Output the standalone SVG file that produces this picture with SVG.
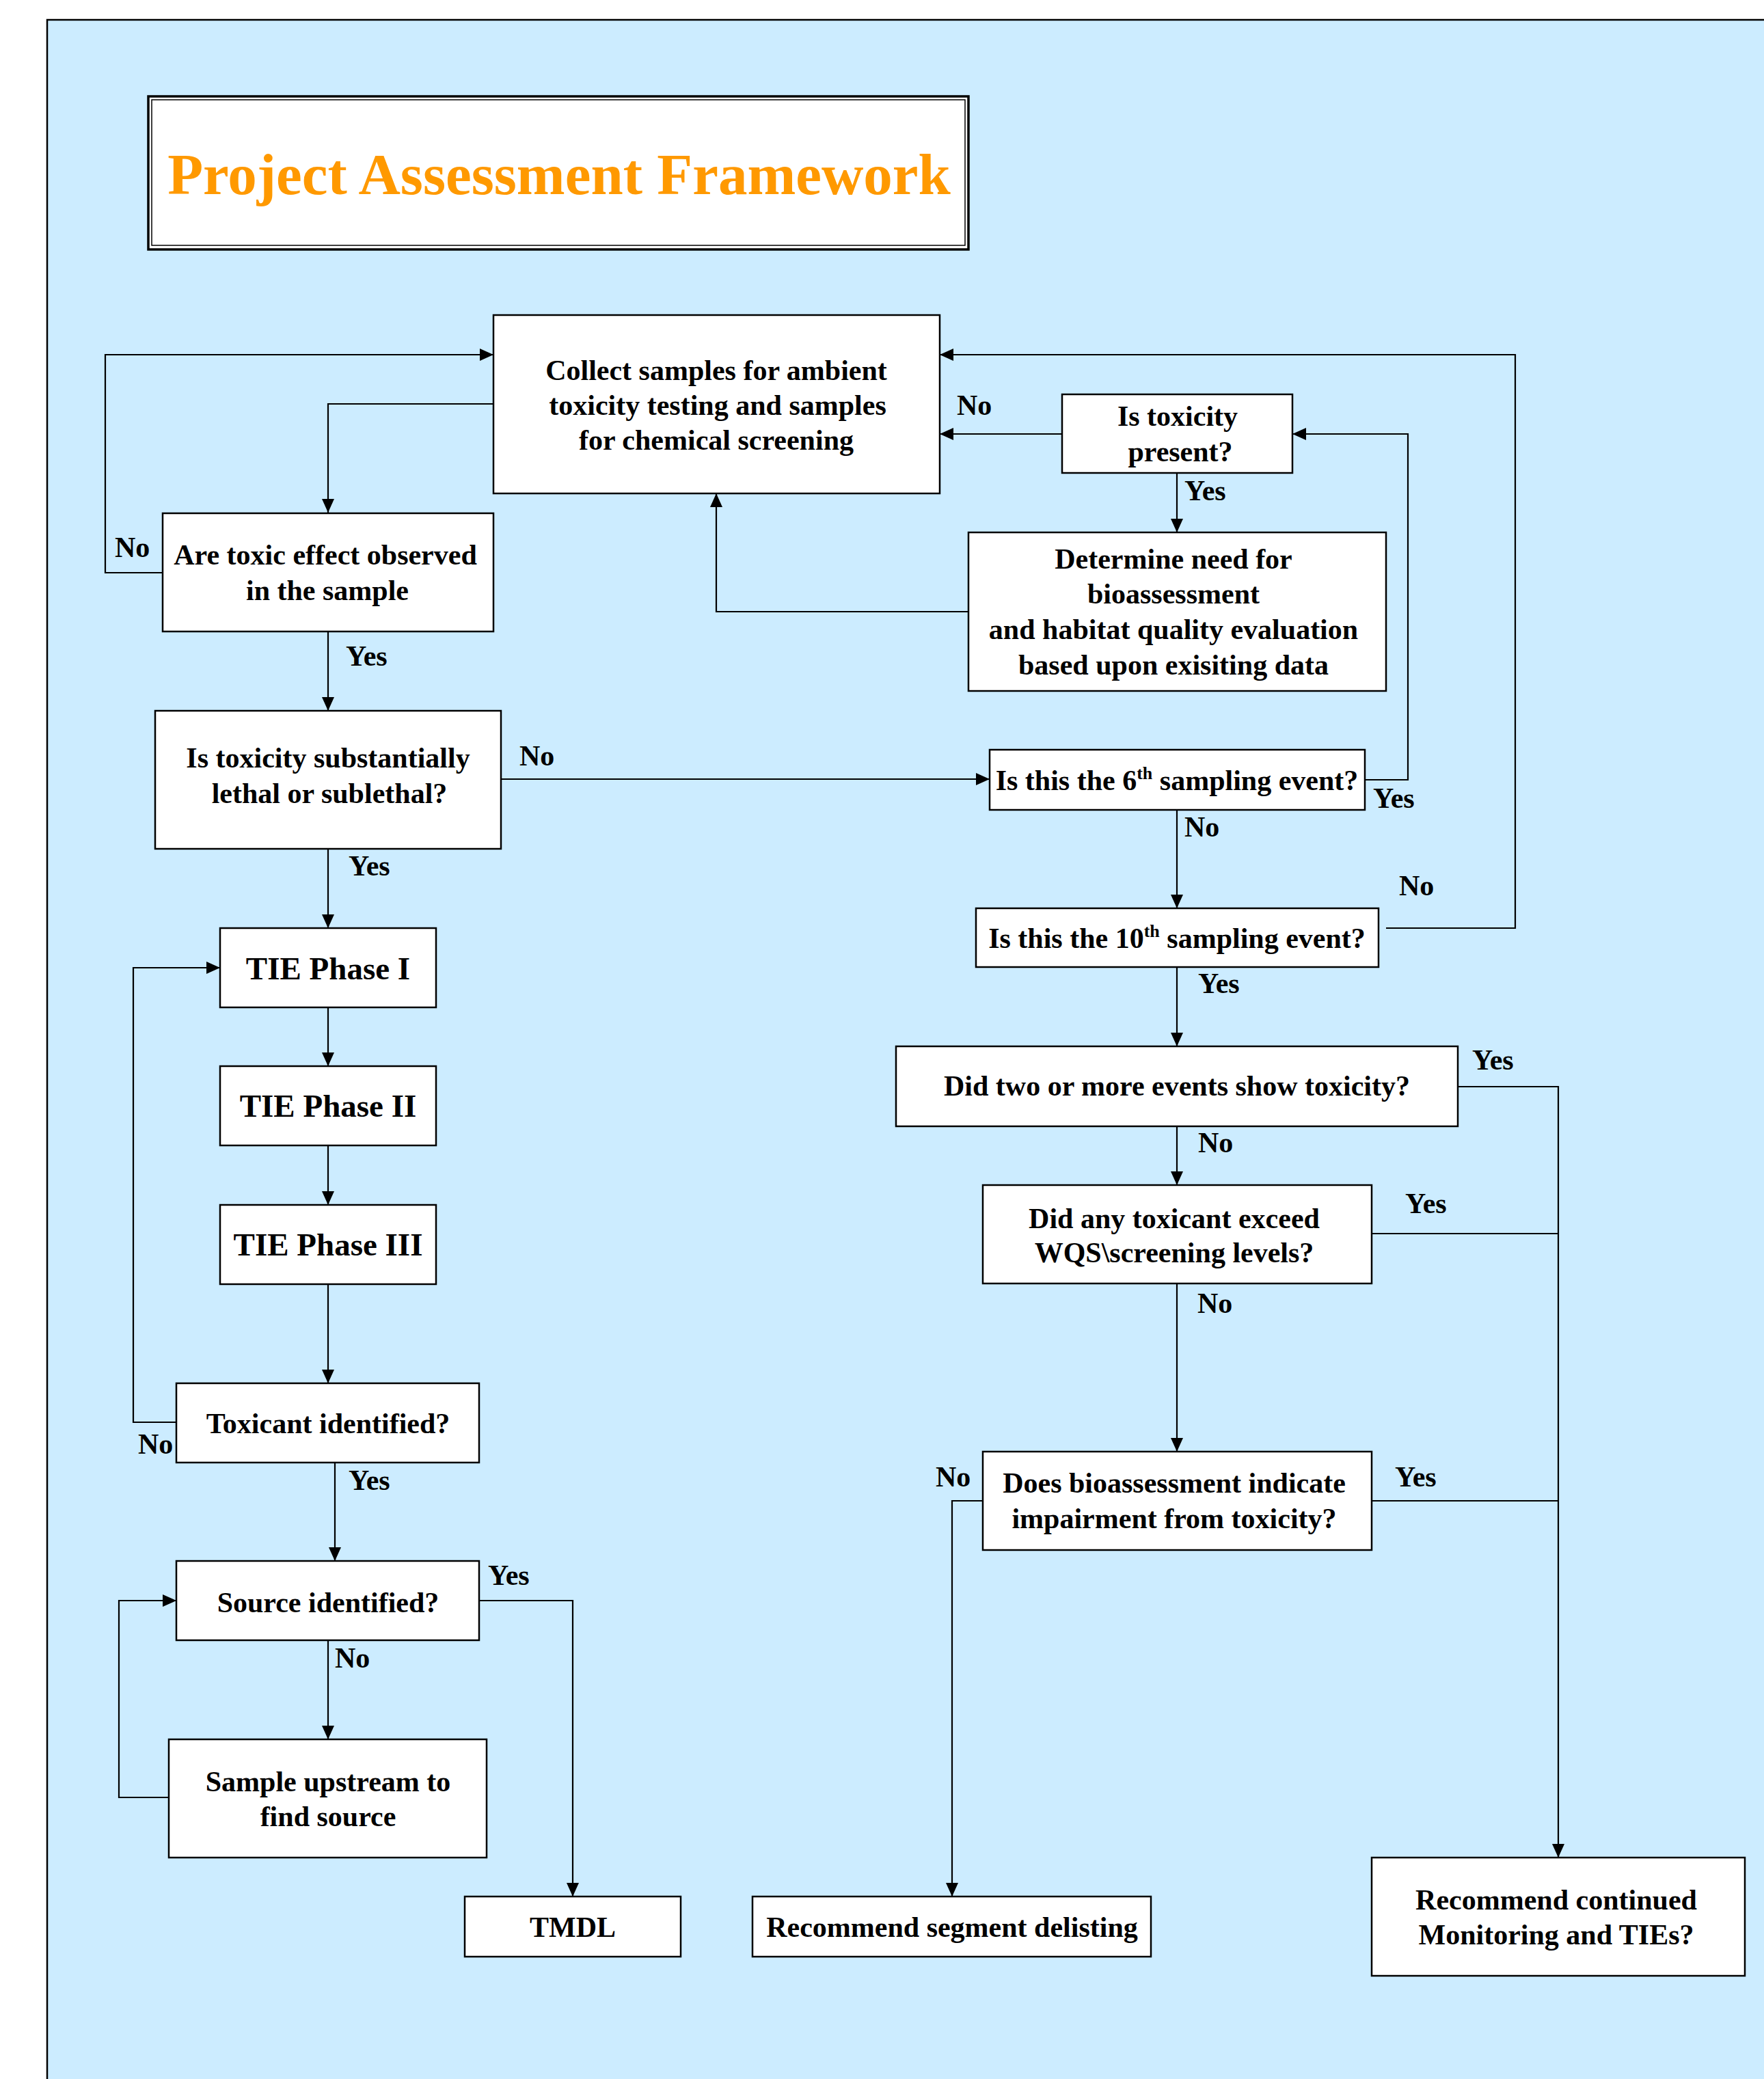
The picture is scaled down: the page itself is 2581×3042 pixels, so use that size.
<svg xmlns="http://www.w3.org/2000/svg" width="2581" height="3042" viewBox="0 0 2581 3042">
<defs>
<style>
.box{fill:#fff;stroke:#000;stroke-width:2.5}
.t{font-family:"Liberation Serif","Times New Roman",serif;font-weight:bold;font-size:42px;fill:#000;text-anchor:middle}
.lb{font-family:"Liberation Serif","Times New Roman",serif;font-weight:bold;font-size:42px;fill:#000}
.big{font-size:47px}
.c{fill:none;stroke:#000;stroke-width:2.2}
.a{marker-end:url(#ah)}
</style>
<marker id="ah" markerUnits="userSpaceOnUse" markerWidth="20" markerHeight="18" refX="20" refY="9" orient="auto">
<path d="M0,0 L20,9 L0,18 z" fill="#000"/>
</marker>
</defs>
<rect x="69" y="29" width="2600" height="3100" fill="#CCECFF" stroke="#000" stroke-width="2.5"/>
<g id="title">
<rect x="217" y="141" width="1200" height="224" fill="#fff" stroke="#000" stroke-width="3.5"/>
<rect x="222" y="146" width="1190" height="213" fill="none" stroke="#000" stroke-width="1.5"/>
<text x="818" y="284" font-family="Liberation Serif,Times New Roman,serif" font-weight="bold" font-size="85" fill="#FF9900" text-anchor="middle">Project Assessment Framework</text>
</g>
<g id="connectors">
<path class="c a" d="M722,591 H480 V750"/>
<path class="c a" d="M238,838 H154 V519 H722"/>
<path class="c a" d="M480,924 V1040"/>
<path class="c a" d="M480,1242 V1358"/>
<path class="c a" d="M480,1474 V1560"/>
<path class="c a" d="M480,1676 V1763"/>
<path class="c a" d="M480,1879 V2024"/>
<path class="c a" d="M258,2081 H195 V1416 H322"/>
<path class="c a" d="M490,2140 V2284"/>
<path class="c a" d="M480,2400 V2545"/>
<path class="c a" d="M248,2630 H174 V2342 H258"/>
<path class="c a" d="M701,2342 H838 V2775"/>
<path class="c a" d="M733,1140 H1448"/>
<path class="c a" d="M1997,1141 H2060 V635 H1891"/>
<path class="c a" d="M1554,635 H1375"/>
<path class="c a" d="M1722,692 V779"/>
<path class="c a" d="M1417,895 H1048 V722"/>
<path class="c a" d="M1722,1185 V1329"/>
<path class="c a" d="M2028,1358 H2217 V519 H1375"/>
<path class="c a" d="M1722,1415 V1531"/>
<path class="c a" d="M2133,1590 H2280 V2718"/>
<path class="c a" d="M1722,1648 V1734"/>
<path class="c" d="M2007,1805 H2280"/>
<path class="c a" d="M1722,1878 V2124"/>
<path class="c" d="M2007,2196 H2280"/>
<path class="c a" d="M1438,2196 H1393 V2775"/>
</g>
<g id="labels">
<text class="lb" x="168" y="815">No</text>
<text class="lb" x="506" y="974">Yes</text>
<text class="lb" x="760" y="1120">No</text>
<text class="lb" x="510" y="1281">Yes</text>
<text class="lb" x="202" y="2127">No</text>
<text class="lb" x="510" y="2180">Yes</text>
<text class="lb" x="714" y="2319">Yes</text>
<text class="lb" x="490" y="2440">No</text>
<text class="lb" x="1400" y="607">No</text>
<text class="lb" x="1733" y="732">Yes</text>
<text class="lb" x="2009" y="1182">Yes</text>
<text class="lb" x="1733" y="1224">No</text>
<text class="lb" x="2047" y="1310">No</text>
<text class="lb" x="1753" y="1453">Yes</text>
<text class="lb" x="2154" y="1565">Yes</text>
<text class="lb" x="1753" y="1686">No</text>
<text class="lb" x="2056" y="1775">Yes</text>
<text class="lb" x="1752" y="1921">No</text>
<text class="lb" x="1369" y="2175">No</text>
<text class="lb" x="2041" y="2175">Yes</text>
</g>
<g id="n-collect">
<rect class="box" x="722" y="461" width="653" height="261"/>
<text class="t" x="1048" y="556">Collect samples for ambient</text>
<text class="t" x="1050" y="607">toxicity testing and samples</text>
<text class="t" x="1048" y="658">for chemical screening</text>
</g>
<g id="n-observed">
<rect class="box" x="238" y="751" width="484" height="173"/>
<text class="t" x="476" y="826">Are toxic effect observed</text>
<text class="t" x="479" y="878">in the sample</text>
</g>
<g id="n-lethal">
<rect class="box" x="227" y="1040" width="506" height="202"/>
<text class="t" x="480" y="1123">Is toxicity substantially</text>
<text class="t" x="482" y="1175">lethal or sublethal?</text>
</g>
<g id="n-tie1">
<rect class="box" x="322" y="1358" width="316" height="116"/>
<text class="t big" x="480" y="1433">TIE Phase I</text>
</g>
<g id="n-tie2">
<rect class="box" x="322" y="1560" width="316" height="116"/>
<text class="t big" x="480" y="1634">TIE Phase II</text>
</g>
<g id="n-tie3">
<rect class="box" x="322" y="1763" width="316" height="116"/>
<text class="t big" x="480" y="1837">TIE Phase III</text>
</g>
<g id="n-toxicant">
<rect class="box" x="258" y="2024" width="443" height="116"/>
<text class="t" x="480" y="2097">Toxicant identified?</text>
</g>
<g id="n-source">
<rect class="box" x="258" y="2284" width="443" height="116"/>
<text class="t" x="480" y="2359">Source identified?</text>
</g>
<g id="n-upstream">
<rect class="box" x="247" y="2545" width="465" height="173"/>
<text class="t" x="480" y="2621">Sample upstream to</text>
<text class="t" x="480" y="2672">find source</text>
</g>
<g id="n-tmdl">
<rect class="box" x="680" y="2775" width="316" height="88"/>
<text class="t" x="838" y="2834">TMDL</text>
</g>
<g id="n-present">
<rect class="box" x="1554" y="577" width="337" height="115"/>
<text class="t" x="1723" y="623">Is toxicity</text>
<text class="t" x="1727" y="675">present?</text>
</g>
<g id="n-determine">
<rect class="box" x="1417" y="779" width="611" height="232"/>
<text class="t" x="1717" y="832">Determine need for</text>
<text class="t" x="1717" y="883">bioassessment</text>
<text class="t" x="1717" y="935">and habitat quality evaluation</text>
<text class="t" x="1717" y="987">based upon exisiting data</text>
</g>
<g id="n-sixth">
<rect class="box" x="1448" y="1097" width="549" height="88"/>
<text class="t" x="1722" y="1156">Is this the 6<tspan font-size="26" dy="-16">th</tspan><tspan dy="16"> sampling event?</tspan></text>
</g>
<g id="n-tenth">
<rect class="box" x="1428" y="1329" width="589" height="86"/>
<text class="t" x="1722" y="1387">Is this the 10<tspan font-size="26" dy="-16">th</tspan><tspan dy="16"> sampling event?</tspan></text>
</g>
<g id="n-twoormore">
<rect class="box" x="1311" y="1531" width="822" height="117"/>
<text class="t" x="1722" y="1603">Did two or more events show toxicity?</text>
</g>
<g id="n-exceed">
<rect class="box" x="1438" y="1734" width="569" height="144"/>
<text class="t" x="1718" y="1797">Did any toxicant exceed</text>
<text class="t" x="1718" y="1847">WQS\screening levels?</text>
</g>
<g id="n-bio">
<rect class="box" x="1438" y="2124" width="569" height="144"/>
<text class="t" x="1718" y="2184">Does bioassessment indicate</text>
<text class="t" x="1718" y="2236">impairment from toxicity?</text>
</g>
<g id="n-delist">
<rect class="box" x="1101" y="2775" width="583" height="88"/>
<text class="t" x="1393" y="2834">Recommend segment delisting</text>
</g>
<g id="n-continued">
<rect class="box" x="2007" y="2718" width="546" height="173"/>
<text class="t" x="2277" y="2794">Recommend continued</text>
<text class="t" x="2277" y="2845">Monitoring and TIEs?</text>
</g>
</svg>
